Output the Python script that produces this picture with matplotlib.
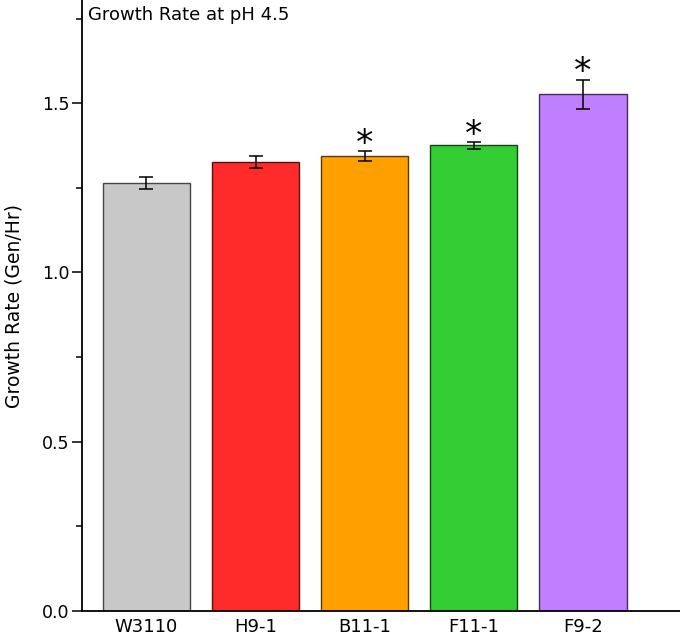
import matplotlib
matplotlib.use("Agg")
import matplotlib.pyplot as plt
from matplotlib.ticker import MultipleLocator
import matplotlib.colors as mcolors

categories = ["W3110", "H9-1", "B11-1", "F11-1", "F9-2"]
values = [1.264, 1.327, 1.344, 1.376, 1.526]
errors = [0.017, 0.017, 0.015, 0.010, 0.044]
significant = [False, False, True, True, True]
colors = ["#C8C8C8", "#FF2B2B", "#FFA000", "#33CC33", "#BF7FFF"]

def darker(c, f=0.35):
    r, g, b = mcolors.to_rgb(c)
    return (r * f, g * f, b * f)

fig = plt.figure(figsize=(6.8, 6.38), dpi=100)
ax = fig.add_axes([82/680, 27/638, 1 - 82/680, 1 - 27/638])

x = list(range(len(categories)))
ax.bar(x, values, width=0.8, color=colors,
       edgecolor=[darker(c) for c in colors], linewidth=1.0, zorder=2)
ax.errorbar(x, values, yerr=errors, fmt="none", ecolor="black",
            elinewidth=1.1, capsize=5, capthick=1.1, zorder=3)

for xi, v, e, s in zip(x, values, errors, significant):
    if s:
        ax.annotate("*", xy=(xi, v + e), xytext=(0, -7), textcoords="offset points",
                    ha="center", va="bottom", fontsize=25)

ax.set_xlim(-0.59, 4.89)
ax.set_ylim(0, 1.805)
ax.yaxis.set_major_locator(MultipleLocator(0.5))
ax.yaxis.set_minor_locator(MultipleLocator(0.25))
ax.set_xticks(x)
ax.set_xticklabels(categories)
ax.tick_params(axis="both", which="major", direction="out", length=7, width=1.1,
               labelsize=12.5, pad=2)
ax.tick_params(axis="y", which="minor", direction="out", length=4, width=1.1)
ax.tick_params(axis="x", which="major", length=0, pad=5, labelsize=13)

for side in ["top", "right"]:
    ax.spines[side].set_visible(False)
for side in ["left", "bottom"]:
    ax.spines[side].set_linewidth(1.3)

ax.set_ylabel("Growth Rate (Gen/Hr)", fontsize=13.5)
ax.yaxis.set_label_coords(-0.097, 0.5)
ax.text(0.01, 0.99, "Growth Rate at pH 4.5", transform=ax.transAxes,
        ha="left", va="top", fontsize=13)

fig.savefig("out.png", dpi=100)
